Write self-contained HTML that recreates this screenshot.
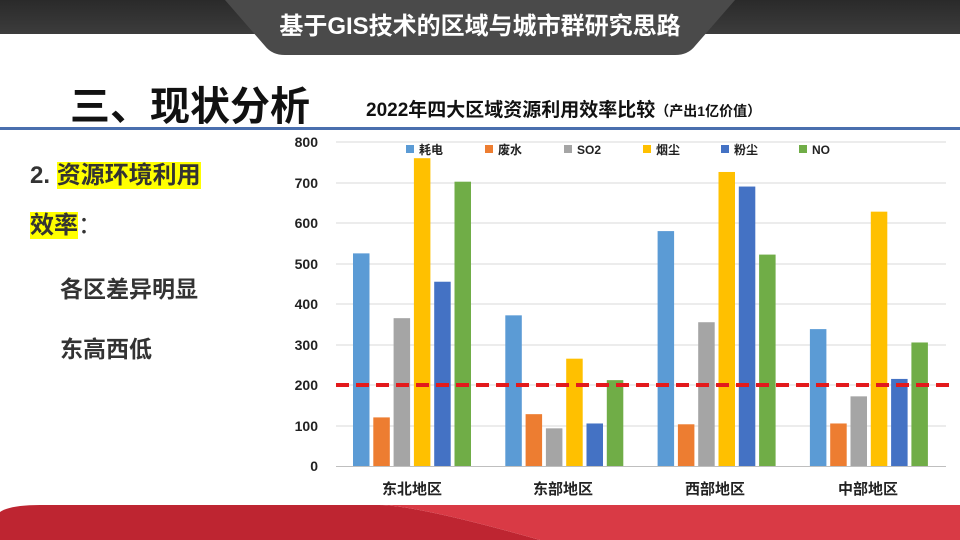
<!DOCTYPE html>
<html><head><meta charset="utf-8"><style>
body{margin:0;width:960px;height:540px;overflow:hidden;background:#fff;font-family:"Liberation Sans","Noto Sans CJK SC",sans-serif;position:relative}
.abs{position:absolute}
</style></head><body>
<svg class="abs" style="left:0;top:0" width="960" height="540">
<defs>
<linearGradient id="tb" x1="0" y1="0" x2="0" y2="1"><stop offset="0" stop-color="#2a2a2a"/><stop offset="1" stop-color="#3c3c3c"/></linearGradient>
</defs>
<rect x="0" y="0" width="960" height="34" fill="url(#tb)"/>
<path d="M225 0 L735 0 L695 46 Q688 55 675 55 L285 55 Q272 55 265 46 Z" fill="#4a4a4a"/>
<rect x="0" y="127" width="960" height="3" fill="#4a6fae"/>
<path d="M0 540 L0 512 Q10 505 40 505 L380 505 Q420 506 540 540 Z" fill="#be2531"/>
<path d="M380 505 L960 505 L960 540 L540 540 Q420 506 380 505 Z" fill="#d93a45"/>
<g font-family="Liberation Sans,sans-serif" font-weight="bold" font-size="14" fill="#222" text-anchor="end">
<text x="318" y="471">0</text><text x="318" y="431">100</text><text x="318" y="390">200</text><text x="318" y="350">300</text><text x="318" y="309">400</text><text x="318" y="269">500</text><text x="318" y="228">600</text><text x="318" y="188">700</text><text x="318" y="147">800</text>
</g>
<g stroke="#d9d9d9" stroke-width="1">
<line x1="336" x2="946" y1="426" y2="426"/><line x1="336" x2="946" y1="385" y2="385"/><line x1="336" x2="946" y1="345" y2="345"/><line x1="336" x2="946" y1="304" y2="304"/><line x1="336" x2="946" y1="264" y2="264"/><line x1="336" x2="946" y1="223" y2="223"/><line x1="336" x2="946" y1="183" y2="183"/><line x1="336" x2="946" y1="142" y2="142"/>
<line x1="336" x2="946" y1="466.5" y2="466.5" stroke="#bfbfbf"/>
</g>
<g id="bars"></g>
<line x1="336" x2="950" y1="385" y2="385" stroke="#e31a1c" stroke-width="4" stroke-dasharray="13,7"/>
<g font-size="12" font-weight="bold" fill="#222" font-family="Liberation Sans,Noto Sans CJK SC,sans-serif">
<rect x="406" y="145" width="8" height="8" fill="#5b9bd5"/><text x="419" y="154">耗电</text>
<rect x="485" y="145" width="8" height="8" fill="#ed7d31"/><text x="498" y="154">废水</text>
<rect x="564" y="145" width="8" height="8" fill="#a5a5a5"/><text x="577" y="154">SO2</text>
<rect x="643" y="145" width="8" height="8" fill="#ffc000"/><text x="656" y="154">烟尘</text>
<rect x="721" y="145" width="8" height="8" fill="#4472c4"/><text x="734" y="154">粉尘</text>
<rect x="799" y="145" width="8" height="8" fill="#70ad47"/><text x="812" y="154">NO</text>
</g>
<g font-size="15" font-weight="bold" fill="#222" text-anchor="middle" font-family="Liberation Sans,Noto Sans CJK SC,sans-serif">
<text x="412" y="494">东北地区</text><text x="563" y="494">东部地区</text><text x="715" y="494">西部地区</text><text x="868" y="494">中部地区</text>
</g>
</svg>
<div class="abs" style="left:0;top:6px;width:960px;text-align:center;color:#fff;font-size:24px;font-weight:bold;font-family:'Liberation Sans','Noto Sans CJK SC',sans-serif">基于GIS技术的区域与城市群研究思路</div>
<div class="abs" style="left:70px;top:74px;font-size:40px;font-weight:bold;color:#111">三、现状分析</div>
<div class="abs" style="left:366px;top:95px;font-size:19px;font-weight:bold;color:#111">2022年四大区域资源利用效率比较<span style="font-size:14px">（产出1亿价值）</span></div>
<div class="abs" style="left:30px;top:151px;font-size:24px;font-weight:bold;color:#333;line-height:50px">2. <span style="background:#ffff00">资源环境利用</span><br><span style="background:#ffff00">效率</span><span style="font-weight:normal">：</span></div>
<div class="abs" style="left:60px;top:259px;font-size:23px;font-weight:bold;color:#333;line-height:60px">各区差异明显<br>东高西低</div>
<script>
var v=[[525,120,365,760,455,702],[372,128,93,265,105,212],[580,103,355,726,690,522],[338,105,172,628,215,305]];
var c=["#5b9bd5","#ed7d31","#a5a5a5","#ffc000","#4472c4","#70ad47"];
var s="";for(var g=0;g<4;g++)for(var i=0;i<6;i++){var h=v[g][i]*0.405;var x=353+g*152.3+i*20.3;s+='<rect x="'+x+'" y="'+(466-h)+'" width="16.5" height="'+h+'" fill="'+c[i]+'"/>';}
document.getElementById("bars").innerHTML=s;
</script>
</body></html>
